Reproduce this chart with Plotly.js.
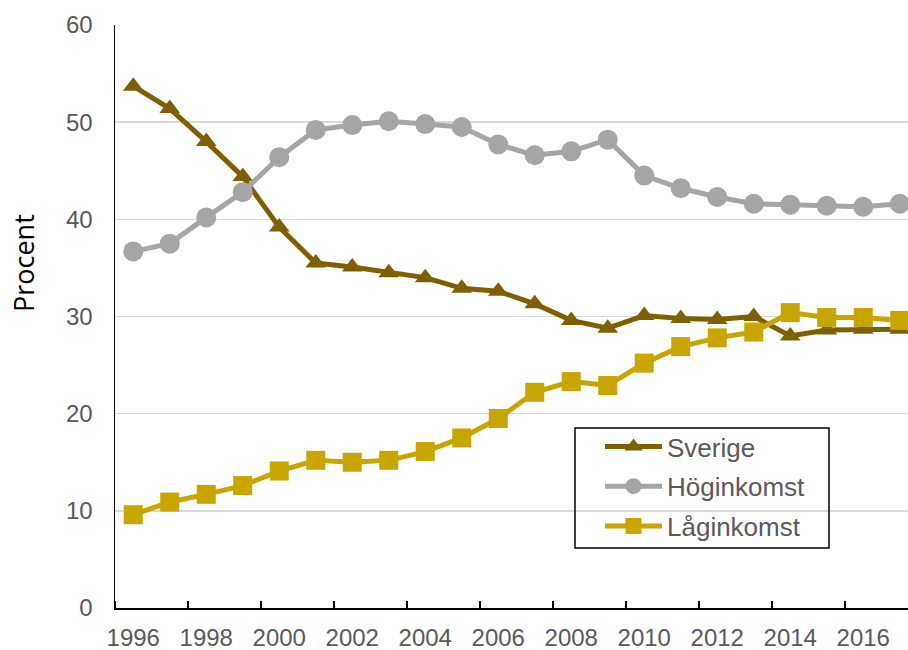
<!DOCTYPE html>
<html>
<head>
<meta charset="utf-8">
<script src="https://cdn.plot.ly/plotly-3.0.1.min.js"></script>
<style>html,body{margin:0;padding:0;background:#fff;}#chart{width:908px;height:650px;}</style>
</head>
<body>
<div id="chart"></div>
<script>
const years = [1996,1997,1998,1999,2000,2001,2002,2003,2004,2005,2006,2007,2008,2009,2010,2011,2012,2013,2014,2015,2016,2017];
const sverige = [53.7,51.4,48.0,44.4,39.2,35.5,35.1,34.5,34.0,32.9,32.6,31.3,29.6,28.8,30.1,29.8,29.7,30.0,28.0,28.6,28.7,28.7];
const hoginkomst = [36.7,37.5,40.2,42.8,46.4,49.2,49.7,50.1,49.8,49.5,47.7,46.6,47.0,48.2,44.5,43.2,42.3,41.6,41.5,41.4,41.3,41.6];
const laginkomst = [9.6,10.9,11.7,12.6,14.1,15.2,15.0,15.2,16.1,17.5,19.5,22.2,23.3,22.9,25.2,26.9,27.8,28.4,30.4,29.9,29.9,29.6];
const seriesNames = ['Sverige','Höginkomst','Låginkomst'];
const xTickVals = [1996,1998,2000,2002,2004,2006,2008,2010,2012,2014,2016];
const xTickText = ['1996','1998','2000','2002','2004','2006','2008','2010','2012','2014','2016'];
const yTickVals = [0,10,20,30,40,50,60];

const L = 115, R = 908, T = 25, B = 608;
const W = R - L, H = B - T;
const px = x => (x - L) / W;
const py = y => (B - y) / H;

const traces = [
  {x: years, y: sverige, name: seriesNames[0], legendgroup: 'a', mode: 'lines+markers',
   line: {color: '#7F6000', width: 5}, marker: {symbol: 'triangle-up', size: 18, color: '#7F6000'}},
  {x: years, y: hoginkomst, name: seriesNames[1], legendgroup: 'b', mode: 'lines+markers',
   line: {color: '#A5A5A5', width: 5}, marker: {symbol: 'circle', size: 20, color: '#A5A5A5'}},
  {x: years, y: laginkomst, name: seriesNames[2], legendgroup: 'c', mode: 'lines+markers',
   line: {color: '#C9A500', width: 5}, marker: {symbol: 'square', size: 19, color: '#C9A500'}}
];

const layout = {
  width: 908, height: 650,
  margin: {l: L, r: 908 - R, t: T, b: 650 - B, pad: 0},
  paper_bgcolor: '#fff', plot_bgcolor: '#fff',
  showlegend: true,
  font: {family: 'Liberation Sans, Arial, sans-serif', size: 24, color: '#595959'},
  xaxis: {
    range: [1995.5, 1995.5 + W / 36.5],
    tickmode: 'array', tickvals: xTickVals, ticktext: xTickText,
    ticks: '', showgrid: false, zeroline: false,
    showline: true, linecolor: '#000', linewidth: 1.5,
    ticklabelstandoff: 8,
    tickfont: {size: 24, color: '#595959'},
    automargin: false,
    minor: {tickmode: 'linear', tick0: 1997.5, dtick: 2, ticks: 'inside', ticklen: 7, tickwidth: 1.5, tickcolor: '#000', showgrid: false}
  },
  yaxis: {
    range: [0, 60], tickmode: 'array', tickvals: yTickVals,
    ticks: '', showgrid: true, gridcolor: '#D9D9D9', gridwidth: 1.5, zeroline: false,
    showline: true, linecolor: '#000', linewidth: 1.5,
    ticklabelstandoff: 16,
    tickfont: {size: 24, color: '#595959'},
    automargin: false
  },
  legend: {
    x: px(600), y: py(423), xanchor: 'left', yanchor: 'top',
    bgcolor: 'rgba(0,0,0,0)', borderwidth: 0,
    font: {size: 26, color: '#595959'},
    tracegroupgap: 3, itemwidth: 57
  },
  shapes: [
    {type: 'rect', xref: 'paper', yref: 'paper', x0: px(575), x1: px(829), y0: py(548), y1: py(428),
     line: {color: '#000', width: 1.5}, fillcolor: 'rgba(0,0,0,0)'}
  ],
  annotations: [
    {text: 'Procent', xref: 'paper', yref: 'paper', x: px(23), y: py(263), xanchor: 'center', yanchor: 'middle',
     textangle: -90, showarrow: false, font: {family: 'Open Sans, sans-serif', size: 27, color: '#000'}}
  ]
};

Plotly.newPlot('chart', traces, layout, {displayModeBar: false, staticPlot: true});
</script>
</body>
</html>
